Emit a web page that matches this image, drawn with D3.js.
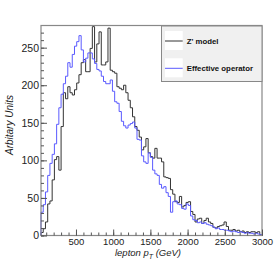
<!DOCTYPE html>
<html>
<head>
<meta charset="utf-8">
<script src="https://cdn.jsdelivr.net/npm/d3@7"></script>
<style>
  body { margin: 0; background: #fff; }
  svg { display: block; font-family: "Liberation Sans", Arial, sans-serif; }
</style>
</head>
<body>
<div id="chart"></div>
<script>
// 30 GeV bins from 30 to 3000 GeV
const binStart = 30, binWidth = 30;

const zprime = [4, 9, 18, 42, 46, 74, 101, 105, 87, 145,
  190, 182, 198, 190, 187, 194, 203, 214, 230, 234,
  218, 218, 249, 278, 231, 255, 271, 227, 227, 231,
  276, 220, 218, 216, 198, 196, 194, 200, 190, 180,
  170, 158, 145, 140, 131, 114, 118, 129, 110, 105,
  103, 116, 103, 103, 98, 78, 77, 76, 61, 55,
  45, 44, 52, 38, 40, 44, 45, 32, 28, 18,
  22, 23, 16, 20, 23, 18, 16, 11, 10, 12,
  13, 14, 18, 12, 7, 7, 8, 6, 7, 5,
  6, 4, 5, 4, 5, 5, 4, 5, 1];

const effective = [31, 41, 58, 80, 96, 108, 122, 148, 170, 188,
  202, 212, 230, 224, 241, 252, 258, 266, 247, 231,
  236, 243, 243, 235, 229, 221, 219, 212, 205, 202,
  202, 207, 192, 178, 176, 165, 152, 146, 143, 147,
  149, 151, 143, 128, 127, 106, 98, 96, 110, 104,
  87, 82, 80, 68, 63, 65, 57, 52, 31, 45,
  46, 42, 41, 36, 35, 42, 40, 26, 21, 20,
  17, 18, 16, 17, 15, 14, 13, 11, 9, 10,
  8, 8, 7, 7, 6, 5, 6, 5, 4, 5,
  4, 3, 4, 3, 3, 2, 3, 2, 1];

const seriesNames = ["Z' model", "Effective operator"];
const seriesColors = ["#333333", "#5a5aff"];
const xTicks = [500, 1000, 1500, 2000, 2500, 3000];
const yTicks = [0, 50, 100, 150, 200, 250];

const width = 276, height = 262;
const frame = {left: 41, right: 262, top: 25.5, bottom: 235.5};

const svg = d3.select("#chart")
  .append("svg")
  .attr("width", width)
  .attr("height", height);

svg.append("rect")
  .attr("width", width)
  .attr("height", height)
  .attr("fill", "#fff");

const x = d3.scaleLinear()
  .domain([binStart, binStart + binWidth * zprime.length])
  .range([frame.left, frame.right]);

const y = d3.scaleLinear()
  .domain([0, 279.5])
  .range([frame.bottom, frame.top]);

// histogram outline as step line
function histPoints(values) {
  const pts = [[binStart, 0]];
  values.forEach((v, i) => pts.push([binStart + i * binWidth, v]));
  pts.push([binStart + values.length * binWidth, values[values.length - 1]]);
  pts.push([binStart + values.length * binWidth, 0]);
  return pts;
}

const line = d3.line()
  .x(d => x(d[0]))
  .y(d => y(d[1]))
  .curve(d3.curveStepAfter);

[zprime, effective].forEach((vals, i) => {
  svg.append("path")
    .datum(histPoints(vals))
    .attr("fill", "none")
    .attr("stroke", seriesColors[i])
    .attr("stroke-width", 1)
    .attr("d", line);
});

// frame
svg.append("rect")
  .attr("x", frame.left)
  .attr("y", frame.top)
  .attr("width", frame.right - frame.left)
  .attr("height", frame.bottom - frame.top)
  .attr("fill", "none")
  .attr("stroke", "#888")
  .attr("stroke-width", 1.2);

// y axis, ROOT style ticks pointing inward
const yAxis = svg.append("g")
  .attr("transform", "translate(" + frame.left + ",0)")
  .call(d3.axisLeft(y).tickValues(yTicks).tickSize(-6).tickPadding(2));
svg.append("g")
  .attr("transform", "translate(" + frame.left + ",0)")
  .call(d3.axisLeft(y).tickValues(d3.range(0, 280, 10)).tickSize(-3).tickFormat(""));

const xAxis = svg.append("g")
  .attr("transform", "translate(0," + frame.bottom + ")")
  .call(d3.axisBottom(x).tickValues(xTicks).tickSize(-6).tickPadding(3)
    .tickFormat(d3.format("d")));
svg.append("g")
  .attr("transform", "translate(0," + frame.bottom + ")")
  .call(d3.axisBottom(x).tickValues(d3.range(100, 3001, 100)).tickSize(-3).tickFormat(""));

svg.selectAll(".domain").remove();
svg.selectAll(".tick line").attr("stroke", "#555");
yAxis.selectAll("text").attr("font-size", 10.5).attr("fill", "#222")
  .attr("font-family", "Liberation Sans, Arial, sans-serif");
xAxis.selectAll("text").attr("font-size", 9.5).attr("fill", "#222")
  .attr("font-family", "Liberation Sans, Arial, sans-serif");

// axis titles
svg.append("text")
  .attr("transform", "translate(13,125) rotate(-90)")
  .attr("text-anchor", "middle")
  .attr("font-size", 10)
  .attr("font-style", "italic")
  .attr("fill", "#222")
  .text("Arbitary Units");

const xt = svg.append("text")
  .attr("x", 148)
  .attr("y", 256)
  .attr("text-anchor", "middle")
  .attr("font-size", 9.5)
  .attr("font-style", "italic")
  .attr("fill", "#222");
xt.append("tspan").text("lepton p");
xt.append("tspan").attr("dy", 2.5).attr("font-size", 7).text("T");
xt.append("tspan").attr("dy", -2.5).text(" (GeV)");

// legend
const legend = svg.append("g");
legend.append("rect")
  .attr("x", 161.5)
  .attr("y", 26)
  .attr("width", 100.5)
  .attr("height", 55.5)
  .attr("fill", "#f0f0f0")
  .attr("stroke", "#888")
  .attr("stroke-width", 1);

seriesNames.forEach((name, i) => {
  const cy = 41 + i * 27.3;
  legend.append("rect")
    .attr("x", 165)
    .attr("y", cy - 10)
    .attr("width", 17.7)
    .attr("height", 19)
    .attr("fill", "#fff");
  legend.append("line")
    .attr("x1", 165)
    .attr("x2", 182.7)
    .attr("y1", cy)
    .attr("y2", cy)
    .attr("stroke", seriesColors[i])
    .attr("stroke-width", 1);
  legend.append("text")
    .attr("x", 186.7)
    .attr("y", cy)
    .attr("dy", "0.35em")
    .attr("font-size", 7.8)
    .attr("font-weight", "bold")
    .attr("fill", "#111")
    .text(name);
});
</script>
</body>
</html>
